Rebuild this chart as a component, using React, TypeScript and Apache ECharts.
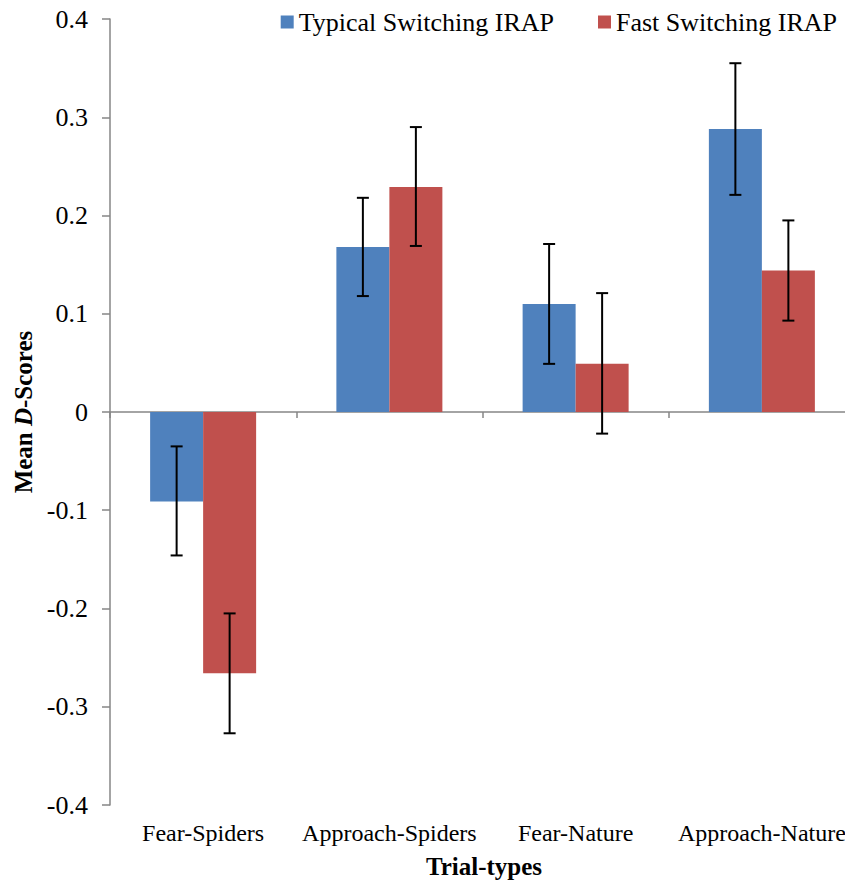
import React, { useEffect, useRef } from "react";
import * as echarts from "echarts";

const categories = ["Fear-Spiders", "Approach-Spiders", "Fear-Nature", "Approach-Nature"];
const seriesNames = ["Typical Switching IRAP", "Fast Switching IRAP"];
const typicalValues = [-0.091, 0.168, 0.11, 0.288];
const fastValues = [-0.266, 0.229, 0.049, 0.144];
const typicalErrLow = [-0.146, 0.118, 0.049, 0.221];
const typicalErrHigh = [-0.035, 0.218, 0.171, 0.355];
const fastErrLow = [-0.327, 0.169, -0.022, 0.093];
const fastErrHigh = [-0.205, 0.29, 0.121, 0.195];
const yMin = -0.4;
const yMax = 0.4;
const yStep = 0.1;

const BLUE = "#4F81BD";
const RED = "#C0504D";
const AXIS = "#868686";
const FONT = "'Liberation Serif', 'Times New Roman', serif";
const BAR_W = 53;
const CHART_W = 860;

function errorSeries(lo: number[], hi: number[], offset: number) {
  return {
    type: "custom",
    xAxisIndex: 0,
    yAxisIndex: 0,
    z: 10,
    silent: true,
    encode: { x: 0, y: [1, 2] },
    data: categories.map((_, i) => [i, lo[i], hi[i]]),
    renderItem: (params: any, api: any) => {
      const i = api.value(0);
      const a = api.coord([i, api.value(1)]);
      const b = api.coord([i, api.value(2)]);
      const x = a[0] + offset;
      const cap = 6;
      const style = { stroke: "#000", lineWidth: 2 };
      return {
        type: "group",
        children: [
          { type: "line", shape: { x1: x, y1: a[1], x2: x, y2: b[1] }, style },
          { type: "line", shape: { x1: x - cap, y1: a[1], x2: x + cap, y2: a[1] }, style },
          { type: "line", shape: { x1: x - cap, y1: b[1], x2: x + cap, y2: b[1] }, style },
        ],
      };
    },
  };
}

export default function App() {
  const ref = useRef<HTMLDivElement>(null);
  useEffect(() => {
    if (!ref.current) return;
    const chart = echarts.init(ref.current, undefined, { renderer: "svg" });
    chart.setOption({
      animation: false,
      backgroundColor: "#fff",
      grid: { left: 110, right: CHART_W - 855, top: 19, bottom: 76, containLabel: false },
      legend: {
        top: 4,
        right: CHART_W - 845 + 3,
        itemWidth: 13,
        itemHeight: 13,
        itemGap: 44,
        icon: "rect",
        textStyle: { fontFamily: FONT, fontSize: 26, color: "#000" },
        data: seriesNames,
      },
      xAxis: [
        {
          type: "category",
          data: categories,
          position: "bottom",
          axisLine: { onZero: true, lineStyle: { color: AXIS, width: 1.5 } },
          axisTick: { show: true, length: 6, lineStyle: { color: AXIS, width: 1.5 } },
          axisLabel: { show: false },
          splitLine: { show: false },
        },
        {
          type: "category",
          data: categories,
          position: "bottom",
          axisLine: { show: false, onZero: false },
          axisTick: { show: false },
          axisLabel: { show: true, interval: 0, margin: 16, fontFamily: FONT, fontSize: 24, color: "#000" },
          splitLine: { show: false },
        },
      ],
      yAxis: {
        type: "value",
        min: yMin,
        max: yMax,
        interval: yStep,
        axisLine: { show: true, lineStyle: { color: AXIS, width: 1.5 } },
        axisTick: { show: true, length: 8, lineStyle: { color: AXIS, width: 1.5 } },
        splitLine: { show: false },
        axisLabel: {
          margin: 22,
          fontFamily: FONT,
          fontSize: 26,
          color: "#000",
          formatter: (v: number) => (Math.abs(v) < 1e-9 ? "0" : v.toFixed(1)),
        },
      },
      series: [
        {
          name: seriesNames[0],
          type: "bar",
          xAxisIndex: 0,
          data: typicalValues,
          barWidth: BAR_W,
          barGap: "0%",
          itemStyle: { color: BLUE },
        },
        {
          name: seriesNames[1],
          type: "bar",
          xAxisIndex: 0,
          data: fastValues,
          barWidth: BAR_W,
          barGap: "0%",
          itemStyle: { color: RED },
        },
        errorSeries(typicalErrLow, typicalErrHigh, -BAR_W / 2),
        errorSeries(fastErrLow, fastErrHigh, BAR_W / 2),
      ],
      graphic: [
        {
          type: "text",
          x: 23,
          y: 412,
          rotation: Math.PI / 2,
          style: {
            text: "{b|Mean }{i|D}{b|-Scores}",
            align: "center",
            verticalAlign: "middle",
            rich: {
              b: { fontFamily: FONT, fontSize: 25, fontWeight: "bold", fill: "#000" },
              i: { fontFamily: FONT, fontSize: 25, fontWeight: "bold", fontStyle: "italic", fill: "#000" },
            },
          },
        },
        {
          type: "text",
          x: 484,
          y: 866,
          style: {
            text: "Trial-types",
            align: "center",
            verticalAlign: "middle",
            fontFamily: FONT,
            fontSize: 25,
            fontWeight: "bold",
            fill: "#000",
          },
        },
      ],
    });
    return () => chart.dispose();
  }, []);
  return (
    <div
      style={{
        position: "absolute",
        left: 0,
        top: 0,
        width: 845,
        height: 881,
        overflow: "hidden",
        background: "#fff",
      }}
    >
      <div ref={ref} style={{ width: CHART_W, height: 881 }} />
    </div>
  );
}
